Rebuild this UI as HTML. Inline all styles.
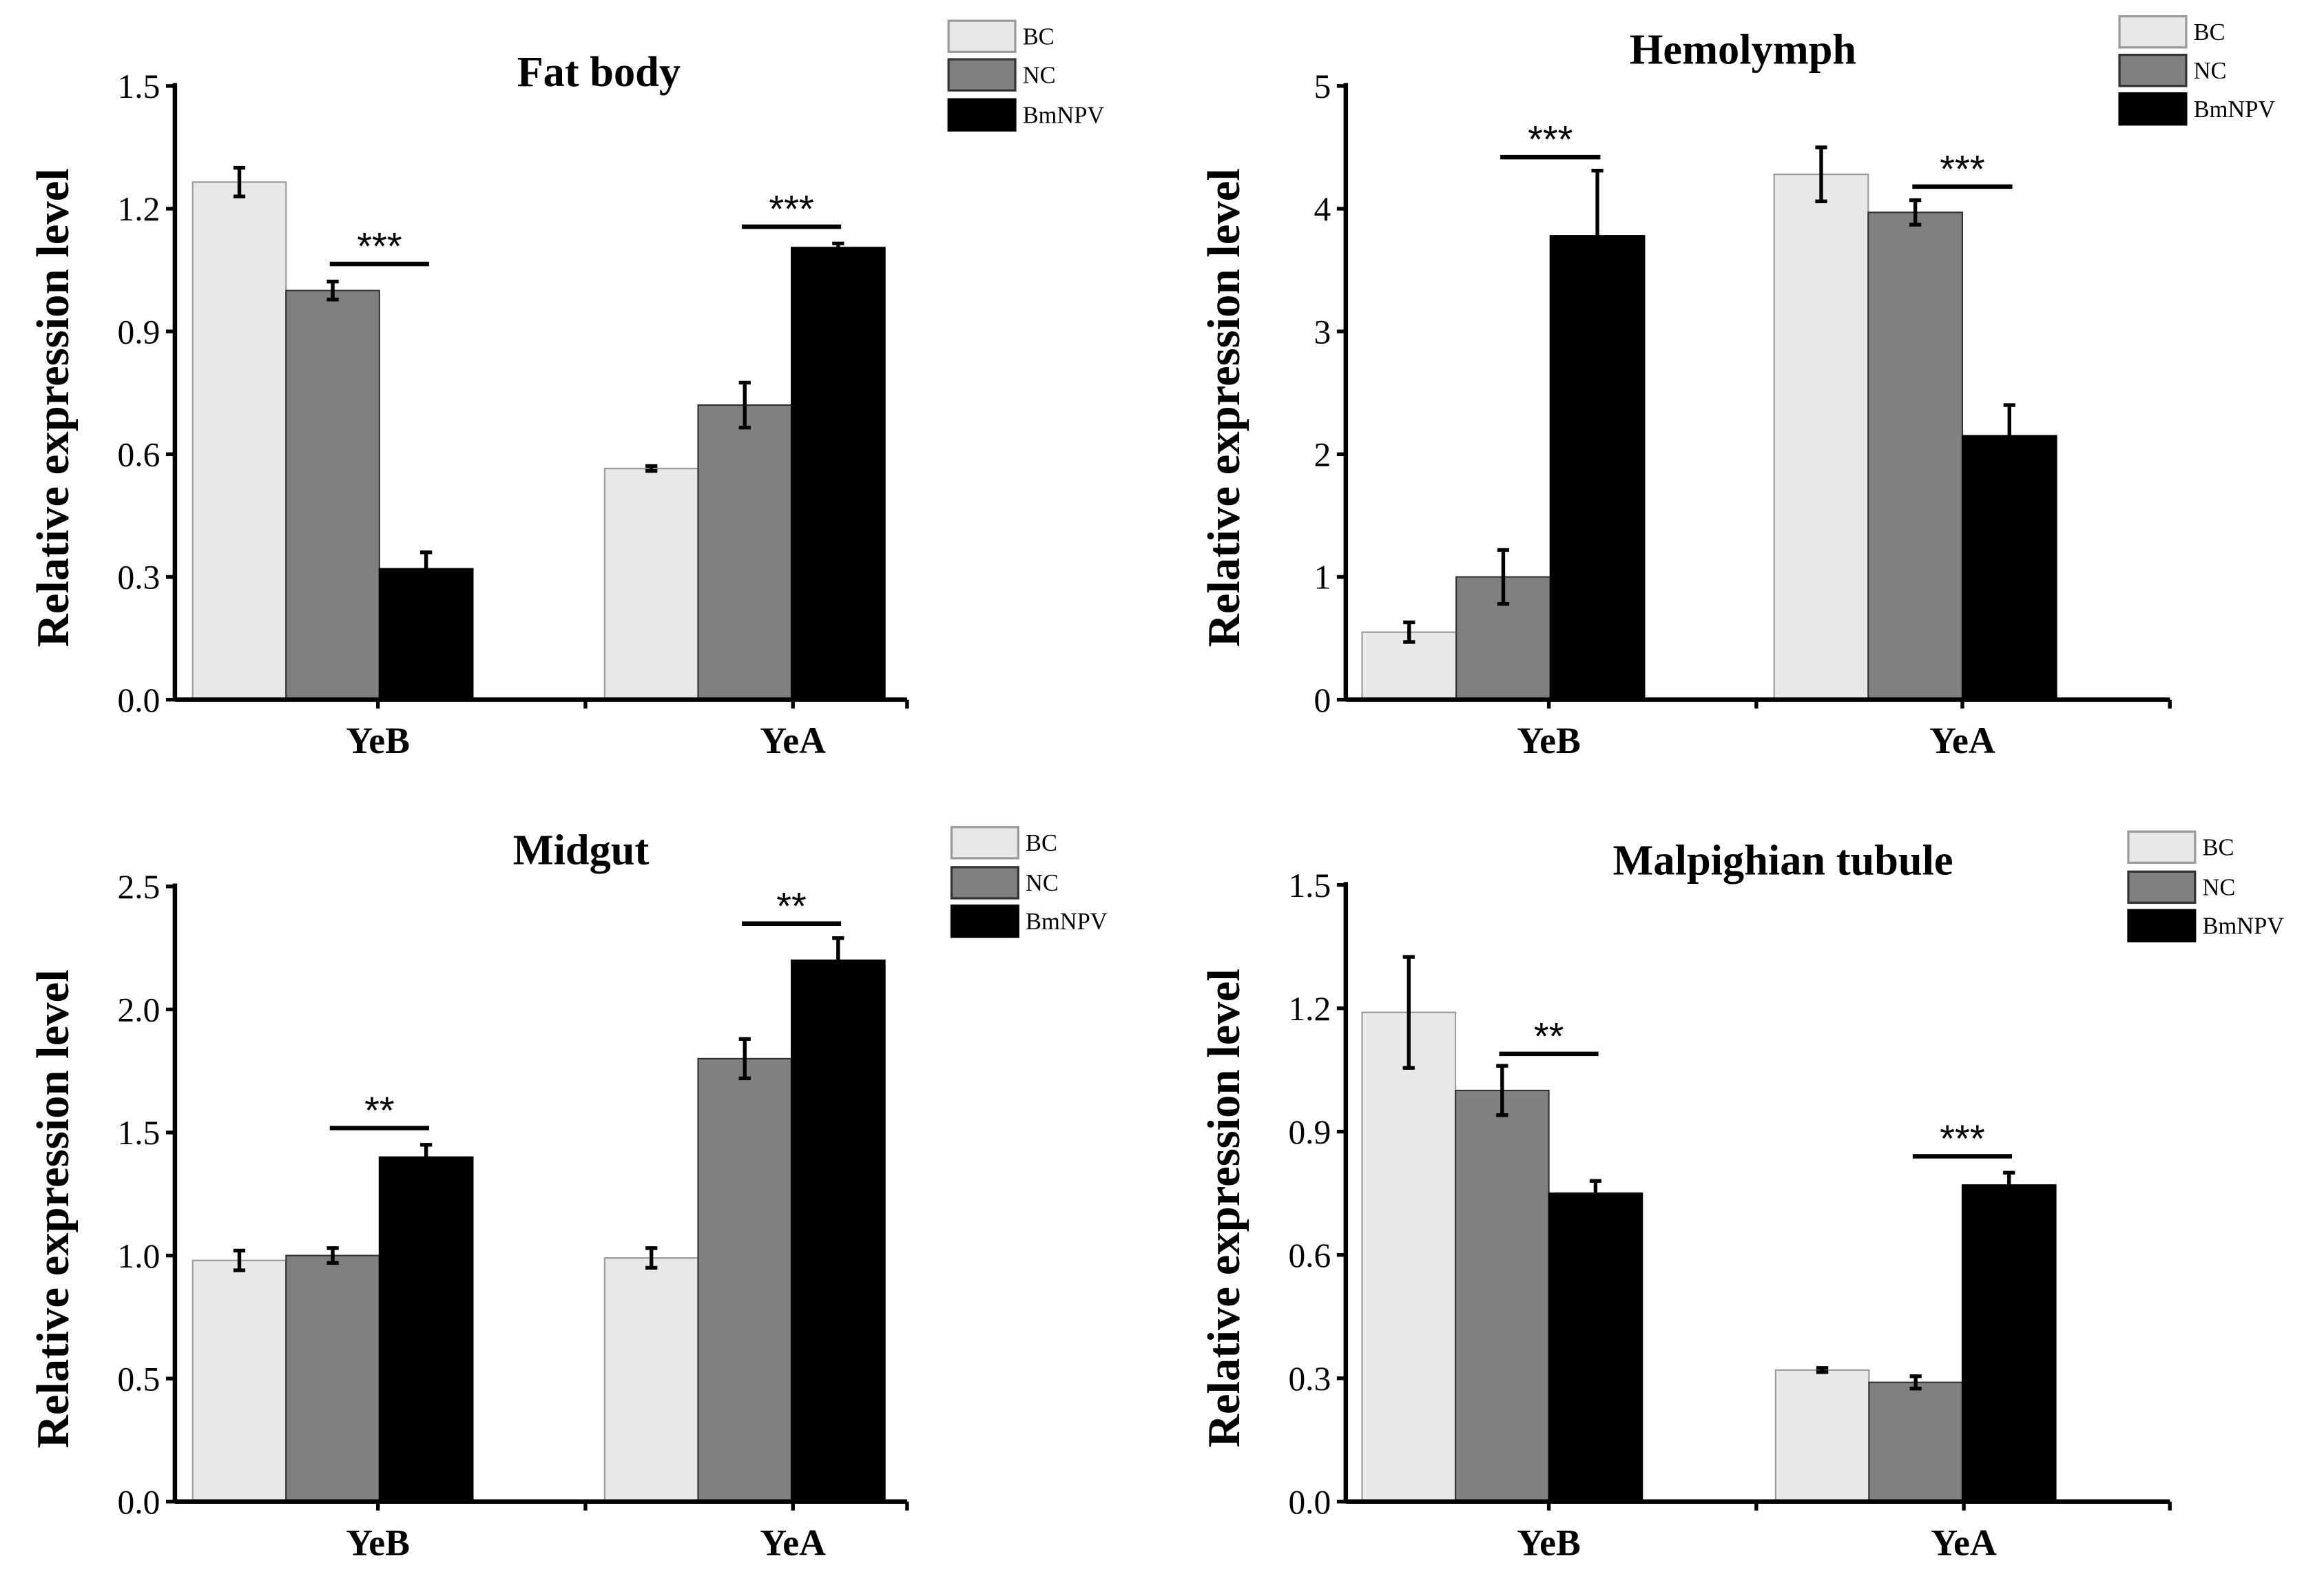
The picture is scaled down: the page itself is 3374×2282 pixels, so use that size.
<!DOCTYPE html>
<html><head><meta charset="utf-8"><style>
html,body{margin:0;padding:0;background:#fff;}
svg{display:block;font-family:"Liberation Serif",serif;}
</style></head><body>
<svg id="chart" width="3374" height="2282" viewBox="0 0 1568 1060.5" preserveAspectRatio="none" xmlns="http://www.w3.org/2000/svg"></svg>
<script>
const categories = ["YeB","YeA"];
const seriesNames = ["BC","NC","BmNPV"];
// Fat body
const fatBodyBC = [1.265, 0.565];
const fatBodyNC = [1.0, 0.72];
const fatBodyBmNPV = [0.32, 1.105];
const fatBodyErrBC = [0.035, 0.006];
const fatBodyErrNC = [0.022, 0.055];
const fatBodyErrBmNPV = [0.04, 0.01];
const fatBodyTicks = ["0.0","0.3","0.6","0.9","1.2","1.5"];
const fatBodySig = ["***","***"];
const fatBodySigLevel = [1.065, 1.156];
// Hemolymph
const hemoBC = [0.55, 4.28];
const hemoNC = [1.0, 3.97];
const hemoBmNPV = [3.78, 2.15];
const hemoErrBC = [0.08, 0.22];
const hemoErrNC = [0.22, 0.1];
const hemoErrBmNPV = [0.53, 0.25];
const hemoTicks = ["0","1","2","3","4","5"];
const hemoSig = ["***","***"];
const hemoSigLevel = [4.42, 4.18];
// Midgut
const midBC = [0.98, 0.99];
const midNC = [1.0, 1.8];
const midBmNPV = [1.4, 2.2];
const midErrBC = [0.04, 0.04];
const midErrNC = [0.03, 0.08];
const midErrBmNPV = [0.05, 0.09];
const midTicks = ["0.0","0.5","1.0","1.5","2.0","2.5"];
const midSig = ["**","**"];
const midSigLevel = [1.518, 2.349];
// Malpighian tubule
const malBC = [1.19, 0.32];
const malNC = [1.0, 0.29];
const malBmNPV = [0.75, 0.77];
const malErrBC = [0.135, 0.005];
const malErrNC = [0.06, 0.015];
const malErrBmNPV = [0.03, 0.03];
const malTicks = ["0.0","0.3","0.6","0.9","1.2","1.5"];
const malSig = ["**","***"];
const malSigLevel = [1.089, 0.84];

const NS="http://www.w3.org/2000/svg";
const svg=document.getElementById('chart');
function mk(tag,attrs,parent,text){const e=document.createElementNS(NS,tag);for(const k in attrs)e.setAttribute(k,attrs[k]);if(text!==undefined)e.textContent=text;(parent||svg).appendChild(e);return e;}

const fills=["#e8e8e8","#808080","#000"];
const strokes=["#9a9a9a","#333","#000"];

const panels=[
 {key:"fat-body",title:"Fat body",tx:404,ty:58,ax:118,y0:472,yt:58,xe:612,g0:[130,408],bw:63,ticksX:[255,395,535],
  legX:640,legY:[14,40,67],vals:[fatBodyBC,fatBodyNC,fatBodyBmNPV],errs:[fatBodyErrBC,fatBodyErrNC,fatBodyErrBmNPV],ticks:fatBodyTicks,sig:fatBodySig,sigLevel:fatBodySigLevel},
 {key:"hemolymph",title:"Hemolymph",tx:1176,ty:43,ax:908,y0:472,yt:58,xe:1464,g0:[919,1197],bw:63.5,ticksX:[1045,1185,1324],
  legX:1430,legY:[11,37,63],vals:[hemoBC,hemoNC,hemoBmNPV],errs:[hemoErrBC,hemoErrNC,hemoErrBmNPV],ticks:hemoTicks,sig:hemoSig,sigLevel:hemoSigLevel},
 {key:"midgut",title:"Midgut",tx:392,ty:583,ax:118,y0:1013,yt:598,xe:612,g0:[130,408],bw:63,ticksX:[255,395,535],
  legX:642,legY:[558,585,611],vals:[midBC,midNC,midBmNPV],errs:[midErrBC,midErrNC,midErrBmNPV],ticks:midTicks,sig:midSig,sigLevel:midSigLevel},
 {key:"malpighian-tubule",title:"Malpighian tubule",tx:1203,ty:590,ax:908,y0:1013,yt:597,xe:1464,g0:[919,1198],bw:63,ticksX:[1045,1185,1325],
  legX:1436,legY:[561,588,614],vals:[malBC,malNC,malBmNPV],errs:[malErrBC,malErrNC,malErrBmNPV],ticks:malTicks,sig:malSig,sigLevel:malSigLevel}
];

panels.forEach(p=>{
 const g=mk('g',{});
 
 
 const n=p.ticks.length-1;
 const ymax=parseFloat(p.ticks[n]);
 const ys=v=>p.y0-(v/ymax)*(p.y0-p.yt);
 categories.forEach((c,ci)=>{
  p.vals.forEach((arr,si)=>{
   const x=p.g0[ci]+si*p.bw;
   const r=mk('rect',{x:x,y:ys(arr[ci]),width:p.bw,height:p.y0-ys(arr[ci]),fill:fills[si],stroke:strokes[si],'stroke-width':1},g);
   
   
  });
  p.vals.forEach((arr,si)=>{
   const cx=p.g0[ci]+si*p.bw+p.bw/2;
   const e=p.errs[si][ci];
   const eg=mk('g',{stroke:'#000','stroke-width':2.5},g);
   
   
   mk('line',{x1:cx,x2:cx,y1:ys(arr[ci]+e),y2:ys(arr[ci]-e)},eg);
   mk('line',{x1:cx-4,x2:cx+4,y1:ys(arr[ci]+e),y2:ys(arr[ci]+e)},eg);
   mk('line',{x1:cx-4,x2:cx+4,y1:ys(arr[ci]-e),y2:ys(arr[ci]-e)},eg);
  });
  const xa=p.g0[ci]+p.bw*1.5, xb=p.g0[ci]+p.bw*2.5;
  const ly=ys(p.sigLevel[ci]);
  const sl=mk('line',{x1:xa-2,x2:xb+2,y1:ly,y2:ly,stroke:'#000','stroke-width':3},g);
  
  
  const st=mk('text',{x:(xa+xb)/2,y:ly-3,'text-anchor':'middle','font-size':26,'font-family':'Liberation Sans, sans-serif'},g,p.sig[ci]);
  
  
 });
 const ya=mk('line',{x1:p.ax,x2:p.ax,y1:p.yt-2,y2:p.y0+1,stroke:'#000','stroke-width':3},g);
 
 
 const xa=mk('line',{x1:p.ax,x2:p.xe,y1:p.y0,y2:p.y0,stroke:'#000','stroke-width':3},g);
 
 
 p.ticks.forEach((t,i)=>{
  const y=ys(parseFloat(t));
  mk('line',{x1:p.ax-6,x2:p.ax,y1:y,y2:y,stroke:'#000','stroke-width':2.5},g);
  const tl=mk('text',{x:p.ax-10,y:y+8,'text-anchor':'end','font-size':23},g,t);
  
  
 });
 p.ticksX.forEach(x=>{mk('line',{x1:x,x2:x,y1:p.y0,y2:p.y0+6,stroke:'#000','stroke-width':2.5},g);});
 mk('line',{x1:p.xe,x2:p.xe,y1:p.y0,y2:p.y0+6,stroke:'#000','stroke-width':2.5},g);
 categories.forEach((c,ci)=>{
  const xl=mk('text',{x:[p.ticksX[0],p.ticksX[2]][ci],y:p.y0+36,'text-anchor':'middle','font-size':25,'font-weight':'bold'},g,c);
  
  
 });
 const yt=mk('text',{x:0,y:0,'text-anchor':'middle','font-size':31,'font-weight':'bold',transform:`translate(${p.ax-72},${(p.y0+p.yt)/2+10}) rotate(-90)`},g,'Relative expression level');
 
 
 const tt=mk('text',{x:p.tx,y:p.ty,'text-anchor':'middle','font-size':29,'font-weight':'bold'},g,p.title);
 
 
 seriesNames.forEach((s,si)=>{
  const lg=mk('g',{},g);
  
  
  mk('rect',{x:p.legX,y:p.legY[si],width:45,height:21,fill:fills[si],stroke:strokes[si],'stroke-width':1.5},lg);
  mk('text',{x:p.legX+50,y:p.legY[si]+16,'font-size':16},lg,s);
 });
});
</script>
</body></html>
